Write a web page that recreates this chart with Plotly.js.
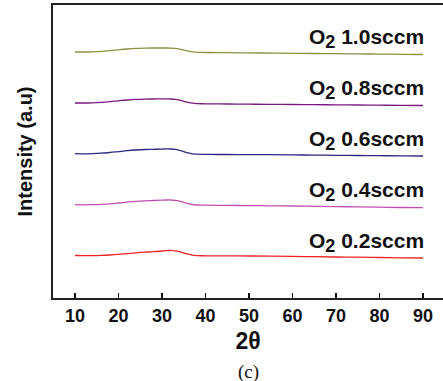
<!DOCTYPE html>
<html><head><meta charset="utf-8">
<script src="https://cdn.plot.ly/plotly-3.0.1.min.js"></script>
<style>html,body{margin:0;padding:0;background:#fff}#c{width:443px;height:381px}</style>
</head><body><div id="c"></div>
<script>
const twoTheta = [10,12,14,16,18,20,22,24,26,28,30,31,32,33,34,35,36,37,38,40,45,50,55,60,65,70,75,80,85,90];
const s02 = [42.5,42.4,42.4,42.6,43,43.6,44.4,45.2,45.8,46.3,47,47.4,47.6,47.2,46.3,45,43.8,42.9,42.4,42.2,42.1,42,41.9,41.7,41.3,41,40.8,40.5,40.2,40];
const s04 = [93.3,93.2,93.3,93.6,94.2,95,95.9,96.7,97.2,97.5,97.8,98,98,97.6,96.8,95.6,94.4,93.5,93,92.8,92.6,92.4,92.2,92,91.7,91.4,91.1,90.8,90.5,90.3];
const s06 = [144.3,144.2,144.4,144.8,145.5,146.4,147.3,148,148.5,148.7,148.9,149.1,149,148.6,147.7,146.4,145.1,144.2,143.8,143.6,143.5,143.4,143.3,143.1,142.9,142.7,142.5,142.3,142.1,142];
const s08 = [195,195,195.2,195.6,196.3,197.2,198,198.6,198.9,199,199.1,199.1,199,198.6,197.8,196.7,195.6,194.8,194.4,194.2,194,193.8,193.6,193.5,193.3,193.2,193,192.8,192.6,192.5];
const s10 = [246,246,246.2,246.6,247.3,248.2,249,249.6,249.9,250,250,250,249.9,249.6,248.9,247.9,246.9,246.2,245.7,245.5,245.3,245.1,244.9,244.7,244.5,244.3,244.1,243.9,243.7,243.5];
const rates = ["0.2","0.4","0.6","0.8","1.0"];
const labelY = [56,107,158,209,260];
const colors = ["#ee2424","#c050b0","#2a2a80","#7a1a80","#8c9040"];
const xTicks = [10,20,30,40,50,60,70,80,90];

const F = 'Liberation Sans';
const series = [s02,s04,s06,s08,s10];
const traces = series.map((s,i)=>({x:twoTheta,y:s,type:'scatter',mode:'lines',
  line:{color:colors[i],width:1.3,shape:'spline'},hoverinfo:'skip'}));
const ann = rates.map((r,i)=>({x:90.6,y:labelY[i],xref:'x',yref:'y',
  text:'<b>O<sub><span style="font-size:18px">2</span></sub> '+r+'sccm</b>',showarrow:false,
  xanchor:'right',yanchor:'middle',font:{family:F,size:21,color:'#111'}}));
ann.push({x:0.5,y:-0.252,xref:'paper',yref:'paper',text:'(c)',showarrow:false,xanchor:'center',yanchor:'middle',
  font:{family:'Liberation Serif',size:19,color:'#111'}});
const layout = {
  width:443,height:381,margin:{l:53,r:0,t:5,b:83},
  paper_bgcolor:'#fff',plot_bgcolor:'#fff',showlegend:false,
  font:{family:F,color:'#111'},
  xaxis:{range:[4.95,94.6],tickvals:xTicks,ticktext:xTicks.map(String),ticks:'inside',ticklen:5,tickwidth:1.5,tickcolor:'#111',
    showline:true,linewidth:2,linecolor:'#222',mirror:true,showgrid:false,zeroline:false,
    tickfont:{size:18,family:F,weight:'bold'},
    title:{text:'<b>2θ</b>',font:{size:23,family:F},standoff:8}},
  yaxis:{range:[0,293],showticklabels:false,ticks:'',showline:true,linewidth:2,linecolor:'#222',showgrid:false,zeroline:false,
    title:{text:'<b>Intensity (a.u)</b>',font:{size:20,family:F},standoff:13}},
  annotations:ann
};
Plotly.newPlot('c',traces,layout,{staticPlot:true});
</script></body></html>
